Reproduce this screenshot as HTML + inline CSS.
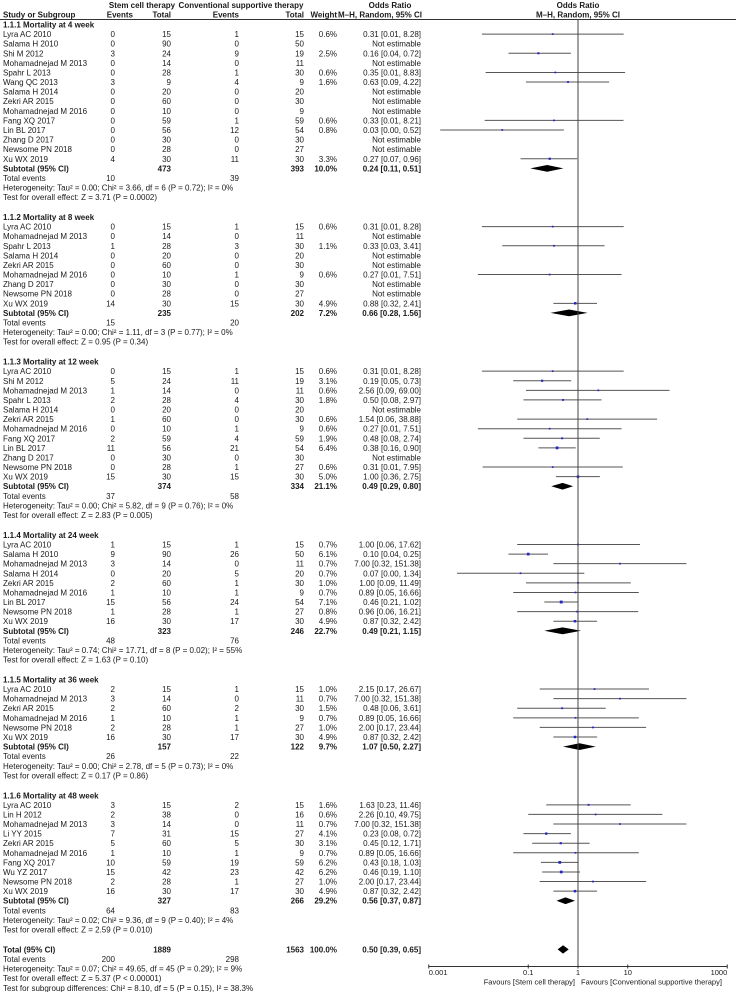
<!DOCTYPE html>
<html><head><meta charset="utf-8">
<style>
html,body{margin:0;padding:0;background:#fff;}
svg{display:block;font-family:"Liberation Sans",sans-serif;}
text{font-size:8px;fill:#1a1a1a;}
.b{font-weight:bold;}
</style></head>
<body>
<svg id="chart" width="736" height="992" viewBox="0 0 736 992" xmlns="http://www.w3.org/2000/svg"></svg>
<script>
// ---- data ----
const studyNames = [
 "Lyra AC 2010","Salama H 2010","Shi M 2012","Mohamadnejad M 2013","Spahr L 2013","Wang QC 2013","Salama H 2014","Zekri AR 2015","Mohamadnejad M 2016","Fang XQ 2017","Lin BL 2017","Zhang D 2017","Newsome PN 2018","Xu WX 2019",
 "Lyra AC 2010","Mohamadnejad M 2013","Spahr L 2013","Salama H 2014","Zekri AR 2015","Mohamadnejad M 2016","Zhang D 2017","Newsome PN 2018","Xu WX 2019",
 "Lyra AC 2010","Shi M 2012","Mohamadnejad M 2013","Spahr L 2013","Salama H 2014","Zekri AR 2015","Mohamadnejad M 2016","Fang XQ 2017","Lin BL 2017","Zhang D 2017","Newsome PN 2018","Xu WX 2019",
 "Lyra AC 2010","Salama H 2010","Mohamadnejad M 2013","Salama H 2014","Zekri AR 2015","Mohamadnejad M 2016","Lin BL 2017","Newsome PN 2018","Xu WX 2019",
 "Lyra AC 2010","Mohamadnejad M 2013","Zekri AR 2015","Mohamadnejad M 2016","Newsome PN 2018","Xu WX 2019",
 "Lyra AC 2010","Lin H 2012","Mohamadnejad M 2013","Li YY 2015","Zekri AR 2015","Mohamadnejad M 2016","Fang XQ 2017","Wu YZ 2017","Newsome PN 2018","Xu WX 2019"];
const studySection = [0,0,0,0,0,0,0,0,0,0,0,0,0,0, 1,1,1,1,1,1,1,1,1, 2,2,2,2,2,2,2,2,2,2,2,2, 3,3,3,3,3,3,3,3,3, 4,4,4,4,4,4, 5,5,5,5,5,5,5,5,5,5];
const ev1 = [0,0,3,0,0,3,0,0,0,0,0,0,0,4, 0,0,1,0,0,0,0,0,14, 0,5,1,2,0,1,0,2,11,0,0,15, 1,9,3,0,2,1,15,1,16, 2,3,2,1,2,16, 3,2,3,7,5,1,10,15,2,16];
const n1 = [15,90,24,14,28,9,20,60,10,59,56,30,28,30, 15,14,28,20,60,10,30,28,30, 15,24,14,28,20,60,10,59,56,30,28,30, 15,90,14,20,60,10,56,28,30, 15,14,60,10,28,30, 15,38,14,31,60,10,59,42,28,30];
const ev2 = [1,0,9,0,1,4,0,0,0,1,12,0,0,11, 1,0,3,0,0,1,0,0,15, 1,11,0,4,0,0,1,4,21,0,1,15, 1,26,0,5,1,1,24,1,17, 1,0,2,1,1,17, 2,0,0,15,5,1,19,23,1,17];
const n2 = [15,50,19,11,30,9,20,30,9,59,54,30,27,30, 15,11,30,20,30,9,30,27,30, 15,19,11,30,20,30,9,59,54,30,27,30, 15,50,11,20,30,9,54,27,30, 15,11,30,9,27,30, 15,16,11,27,30,9,59,42,27,30];
const weights = [0.6,null,2.5,null,0.6,1.6,null,null,null,0.6,0.8,null,null,3.3, 0.6,null,1.1,null,null,0.6,null,null,4.9, 0.6,3.1,0.6,1.8,null,0.6,0.6,1.9,6.4,null,0.6,5.0, 0.7,6.1,0.7,0.7,1.0,0.7,7.1,0.8,4.9, 1.0,0.7,1.5,0.7,1.0,4.9, 1.6,0.6,0.7,4.1,3.1,0.7,6.2,6.2,1.0,4.9];
const orVals = [0.31,null,0.16,null,0.35,0.63,null,null,null,0.33,0.03,null,null,0.27, 0.31,null,0.33,null,null,0.27,null,null,0.88, 0.31,0.19,2.56,0.50,null,1.54,0.27,0.48,0.38,null,0.31,1.00, 1.00,0.10,7.00,0.07,1.00,0.89,0.46,0.96,0.87, 2.15,7.00,0.48,0.89,2.00,0.87, 1.63,2.26,7.00,0.23,0.45,0.89,0.43,0.46,2.00,0.87];
const ciLo = [0.0117,null,0.04,null,0.0139,0.09,null,null,null,0.0133,0.0017,null,null,0.07, 0.0117,null,0.03,null,null,0.0097,null,null,0.32, 0.0117,0.05,0.09,0.08,null,0.06,0.0097,0.08,0.16,null,0.0121,0.36, 0.06,0.04,0.32,0.0037,0.09,0.05,0.21,0.06,0.32, 0.17,0.32,0.06,0.05,0.17,0.32, 0.23,0.10,0.32,0.08,0.12,0.05,0.18,0.19,0.17,0.32];
const ciHi = [8.28,null,0.72,null,8.83,4.22,null,null,null,8.21,0.52,null,null,0.96, 8.28,null,3.41,null,null,7.51,null,null,2.41, 8.28,0.73,69.00,2.97,null,38.88,7.51,2.74,0.90,null,7.95,2.75, 17.62,0.25,151.38,1.34,11.49,16.66,1.02,16.21,2.42, 26.67,151.38,3.61,16.66,23.44,2.42, 11.46,49.75,151.38,0.72,1.71,16.66,1.03,1.10,23.44,2.42];

const subTitles = ["1.1.1 Mortality at 4 week","1.1.2 Mortality at 8 week","1.1.3 Mortality at 12 week","1.1.4 Mortality at 24 week","1.1.5 Mortality at 36 week","1.1.6 Mortality at 48 week"];
const subN1 = [473,235,374,323,157,327];
const subN2 = [393,202,334,246,122,266];
const subWeight = [10.0,7.2,21.1,22.7,9.7,29.2];
const subOR = [0.24,0.66,0.49,0.49,1.07,0.56];
const subLo = [0.11,0.28,0.29,0.21,0.50,0.37];
const subHi = [0.51,1.56,0.80,1.15,2.27,0.87];
const subEv1 = [10,15,37,48,26,64];
const subEv2 = [39,20,58,76,22,83];
const subHet = [
 "Heterogeneity: Tau² = 0.00; Chi² = 3.66, df = 6 (P = 0.72); I² = 0%",
 "Heterogeneity: Tau² = 0.00; Chi² = 1.11, df = 3 (P = 0.77); I² = 0%",
 "Heterogeneity: Tau² = 0.00; Chi² = 5.82, df = 9 (P = 0.76); I² = 0%",
 "Heterogeneity: Tau² = 0.74; Chi² = 17.71, df = 8 (P = 0.02); I² = 55%",
 "Heterogeneity: Tau² = 0.00; Chi² = 2.78, df = 5 (P = 0.73); I² = 0%",
 "Heterogeneity: Tau² = 0.02; Chi² = 9.36, df = 9 (P = 0.40); I² = 4%"];
const subZ = [
 "Test for overall effect: Z = 3.71 (P = 0.0002)",
 "Test for overall effect: Z = 0.95 (P = 0.34)",
 "Test for overall effect: Z = 2.83 (P = 0.005)",
 "Test for overall effect: Z = 1.63 (P = 0.10)",
 "Test for overall effect: Z = 0.17 (P = 0.86)",
 "Test for overall effect: Z = 2.59 (P = 0.010)"];
const totalN = [1889,1563];
const totalEvents = [200,298];
const totalWeight = 100.0;
const totalOR = [0.50,0.39,0.65];
const totalHet = "Heterogeneity: Tau² = 0.07; Chi² = 49.65, df = 45 (P = 0.29); I² = 9%";
const totalZ = "Test for overall effect: Z = 5.37 (P < 0.00001)";
const subgroupDiff = "Test for subgroup differences: Chi² = 8.10, df = 5 (P = 0.15), I² = 38.3%";
const tickValues = [0.001,0.1,1,10,1000];
const tickLabels = ["0.001","0.1","1","10","1000"];

// ---- layout ----
const svg = document.getElementById('chart');
const NS = "http://www.w3.org/2000/svg";
const P = 9.59, G = 10.3;
const X0 = 578, DEC = 49.75;
function xs(v){ return X0 + Math.log10(v)*DEC; }
const C = {study:3, ev1:115, tot1:171, ev2:239, tot2:304, wt:337, or:421};

function txt(x,y,s,anchor,bold,name){
  const t = document.createElementNS(NS,'text');
  t.setAttribute('x',x); t.setAttribute('y',y+3);
  if(anchor) t.setAttribute('text-anchor',anchor);
  if(bold) t.setAttribute('class','b');
  
  
  t.textContent = s; svg.appendChild(t); return t;
}
function line(x1,y1,x2,y2,col,name,w){
  const l = document.createElementNS(NS,'line');
  l.setAttribute('x1',x1); l.setAttribute('y1',y1); l.setAttribute('x2',x2); l.setAttribute('y2',y2);
  l.setAttribute('stroke',col); l.setAttribute('stroke-width',w||1);
  
  
  svg.appendChild(l); return l;
}
function diamond(lo,or,hi,y,h,name){
  const p = document.createElementNS(NS,'polygon');
  p.setAttribute('points', `${xs(lo)},${y} ${xs(or)},${y-h} ${xs(hi)},${y} ${xs(or)},${y+h}`);
  p.setAttribute('fill','#000');
  
  
  svg.appendChild(p);
}
function fmtOR(o,l,h){ return o.toFixed(2)+" ["+l.toFixed(2)+", "+h.toFixed(2)+"]"; }

// header
txt(142,5,"Stem cell therapy","middle",true,"header-stem-cell");
txt(241,5,"Conventional supportive therapy","middle",true,"header-conventional");
txt(390,5,"Odds Ratio","middle",true,"header-odds-ratio");
txt(578,5,"Odds Ratio","middle",true,"header-odds-ratio-plot");
txt(C.study,14.5,"Study or Subgroup",null,true,"header-study");
txt(133,14.5,"Events","end",true,"header-events-1");
txt(171,14.5,"Total","end",true,"header-total-1");
txt(239,14.5,"Events","end",true,"header-events-2");
txt(304,14.5,"Total","end",true,"header-total-2");
txt(337,14.5,"Weight","end",true,"header-weight");
txt(380,14.5,"M–H, Random, 95% CI","middle",true,"header-method");
txt(578,14.5,"M–H, Random, 95% CI","middle",true,"header-method-plot");
line(0,19.5,736,19.5,"#333","header-rule");

let y = 24.5;
for(let s=0;s<subTitles.length;s++){
  txt(C.study,y,subTitles[s],null,true,"subgroup-heading"); y+=P;
  for(let i=0;i<studyNames.length;i++){
    if(studySection[i]!==s) continue;
    txt(C.study,y,studyNames[i],null,false,"study-name");
    txt(C.ev1,y,String(ev1[i]),"end",false,"events-stem");
    txt(C.tot1,y,String(n1[i]),"end",false,"total-stem");
    txt(C.ev2,y,String(ev2[i]),"end",false,"events-conventional");
    txt(C.tot2,y,String(n2[i]),"end",false,"total-conventional");
    if(orVals[i]===null){
      txt(C.or,y,"Not estimable","end",false,"odds-ratio-text");
    } else {
      txt(C.wt,y,weights[i].toFixed(1)+"%","end",false,"weight");
      txt(C.or,y,fmtOR(orVals[i],ciLo[i],ciHi[i]),"end",false,"odds-ratio-text");
      line(xs(ciLo[i]),y,xs(ciHi[i]),y,"#555","ci-line");
      const sz = 1.6 + weights[i]*0.18;
      const r = document.createElementNS(NS,'rect');
      r.setAttribute('x', xs(orVals[i])-sz/2); r.setAttribute('y', y-sz/2);
      r.setAttribute('width', sz); r.setAttribute('height', sz);
      r.setAttribute('fill','#2424c8');
      
      
      svg.appendChild(r);
    }
    y+=P;
  }
  txt(C.study,y,"Subtotal (95% CI)",null,true,"subtotal-label");
  txt(C.tot1,y,String(subN1[s]),"end",true,"subtotal-total-stem");
  txt(C.tot2,y,String(subN2[s]),"end",true,"subtotal-total-conventional");
  txt(C.wt,y,subWeight[s].toFixed(1)+"%","end",true,"subtotal-weight");
  txt(C.or,y,fmtOR(subOR[s],subLo[s],subHi[s]),"end",true,"subtotal-or-text");
  diamond(subLo[s],subOR[s],subHi[s],y,3.4,"subtotal-diamond");
  y+=P;
  txt(C.study,y,"Total events",null,false,"total-events-label");
  txt(C.ev1,y,String(subEv1[s]),"end",false,"total-events-stem");
  txt(C.ev2,y,String(subEv2[s]),"end",false,"total-events-conventional");
  y+=P;
  txt(C.study,y,subHet[s],null,false,"heterogeneity");
  y+=P;
  txt(C.study,y,subZ[s],null,false,"overall-effect-test");
  y+=P+G;
}
txt(C.study,y,"Total (95% CI)",null,true,"total-label");
txt(C.tot1,y,String(totalN[0]),"end",true,"total-n-stem");
txt(C.tot2,y,String(totalN[1]),"end",true,"total-n-conventional");
txt(C.wt,y,totalWeight.toFixed(1)+"%","end",true,"total-weight");
txt(C.or,y,fmtOR(totalOR[0],totalOR[1],totalOR[2]),"end",true,"total-or-text");
diamond(totalOR[1],totalOR[0],totalOR[2],y,4.2,"total-diamond");
y+=P;
txt(C.study,y,"Total events",null,false,"total-events-label");
txt(C.ev1,y,String(totalEvents[0]),"end",false,"total-events-stem");
txt(C.ev2,y,String(totalEvents[1]),"end",false,"total-events-conventional");
y+=P;
txt(C.study,y,totalHet,null,false,"total-heterogeneity");
y+=P;
txt(C.study,y,totalZ,null,false,"total-overall-effect");
y+=P;
txt(C.study,y,subgroupDiff,null,false,"subgroup-differences");

// axis
const AY = 966.5;
line(X0,19.5,X0,AY,"#444","null-effect-line");
line(xs(0.001),AY,xs(1000),AY,"#333","x-axis");
for(let k=0;k<tickValues.length;k++){
  const tx = xs(tickValues[k]);
  line(tx,AY-2,tx,AY+2,"#333","x-tick");
  const t = txt(tx,AY+5.5,tickLabels[k],k===0?"start":(k===tickValues.length-1?"end":"middle"),false,"x-tick-label");
  t.setAttribute('style','font-size:7.5px');
}
const f1 = txt(575,AY+15,"Favours [Stem cell therapy]","end",false,"favours-stem-label");
f1.setAttribute('style','font-size:7.5px');
const f2 = txt(581,AY+15,"Favours [Conventional supportive therapy]","start",false,"favours-conventional-label");
f2.setAttribute('style','font-size:7.5px');
</script>
</body></html>
